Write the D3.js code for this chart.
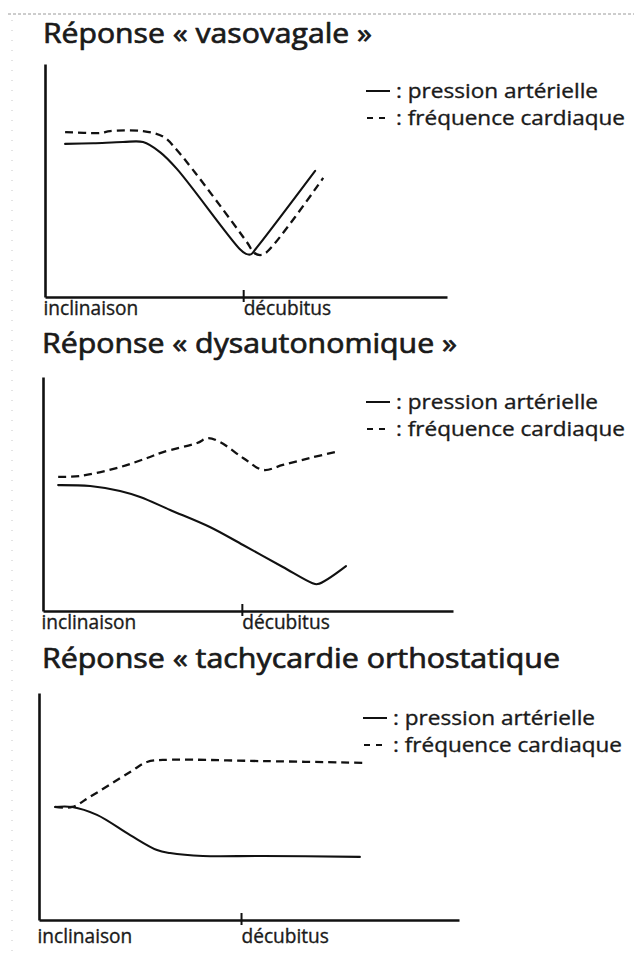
<!DOCTYPE html>
<html lang="fr">
<head>
<meta charset="utf-8">
<script src="https://cdn.jsdelivr.net/npm/d3@7"></script>
<style>
  html, body { margin: 0; padding: 0; background: #ffffff; }
  svg { display: block; }
  text { font-family: "Open Sans", "Noto Sans", sans-serif; fill: #1a1a1a; }
</style>
</head>
<body>
<svg id="fig" width="634" height="964"></svg>
<script>
// Schematic responses to the tilt test: blood pressure (solid) and heart rate (dashed).
// Time runs along x (0 = inclinaison, 100 = end of recording), level along y (0–100, arbitrary units).

const titles = [
  "Réponse « vasovagale »",
  "Réponse « dysautonomique »",
  "Réponse « tachycardie orthostatique"
];
const legendLabels = [": pression artérielle", ": fréquence cardiaque"];
const tickLabels = ["inclinaison", "décubitus"];
const decubitusAt = [49.3, 48.5, 48.1];

// vasovagal response
const vasoPressureX = [5, 12, 19.4, 24.4, 28.6, 32.8, 48.5, 50.0, 51.2, 52.4, 67.2];
const vasoPressureY = [65.7, 66.0, 66.5, 66.5, 62.2, 55.0, 20.5, 18.5, 18.3, 20.6, 54.1];
const vasoHeartX = [5, 13.7, 16.2, 24.4, 29.4, 32.8, 50.2, 52.0, 53.5, 55.0, 69.2];
const vasoHeartY = [70.8, 70.4, 71.2, 71.2, 68.8, 63.1, 23.6, 19.0, 18.0, 19.0, 51.1];

// dysautonomic response
const dysPressureX = [3.7, 11.5, 18.8, 23.7, 31.0, 40.7, 48.8, 58.5, 65.6, 67.0, 73.9];
const dysPressureY = [53.8, 53.4, 51.3, 48.7, 43.2, 35.9, 28.2, 18.8, 12.0, 11.5, 19.2];
const dysHeartX = [3.7, 9.0, 18.8, 25.4, 29.3, 37.6, 40.2, 43.2, 48.8, 53.7, 58.5, 65.1, 71.2];
const dysHeartY = [57.3, 57.7, 61.5, 65.4, 67.9, 71.8, 73.9, 72.2, 65.4, 60.3, 62.4, 65.4, 67.9];

// postural orthostatic tachycardia
const potsPressureX = [3.8, 7.9, 13.8, 21.7, 28.1, 31.2, 39.0, 53.3, 76.4];
const potsPressureY = [49.8, 49.8, 46.3, 37.4, 30.8, 29.5, 28.2, 28.2, 27.8];
const potsHeartX = [3.8, 7.9, 12.1, 21.7, 25.7, 29.5, 53.3, 77.9];
const potsHeartY = [49.8, 49.8, 54.2, 65.2, 69.6, 70.5, 70.0, 69.2];

const zip = (xs, ys) => xs.map((x, i) => ({ x, y: ys[i] }));

const panels = [
  { pressure: zip(vasoPressureX, vasoPressureY), heart: zip(vasoHeartX, vasoHeartY) },
  { pressure: zip(dysPressureX, dysPressureY), heart: zip(dysHeartX, dysHeartY) },
  { pressure: zip(potsPressureX, potsPressureY), heart: zip(potsHeartX, potsHeartY) }
];

// page geometry of each panel
const frames = [
  { x0: 45, x1: 447, top: 64,  bottom: 297, titleY: 43,  titleX: 43, titleW: 329, legendX: 366, legendY: 98,  labelY: 315 },
  { x0: 43, x1: 453, top: 377, bottom: 611, titleY: 353, titleX: 42, titleW: 415, legendX: 366, legendY: 409, labelY: 629 },
  { x0: 39, x1: 459, top: 693, bottom: 920, titleY: 668, titleX: 42, titleW: 518, legendX: 363, legendY: 725, labelY: 943 }
];
const legendW = [202, 229];
const titleSize = 27;
const legendSize = 19.5;
const ink = "#1a1a1a";

const svg = d3.select("#fig");

// faint dotted page edges of the printed sheet
svg.append("line").attr("x1", 8).attr("x2", 634).attr("y1", 14).attr("y2", 14)
  .attr("stroke", "#9a9a9a").attr("stroke-width", 1).attr("stroke-dasharray", "3,2");
svg.append("line").attr("x1", 12).attr("x2", 12).attr("y1", 20).attr("y2", 960)
  .attr("stroke", "#c8c8c8").attr("stroke-width", 1).attr("stroke-dasharray", "1,9");

// font size for the axis labels, chosen so their widths fit the layout
function fitSize(strings, targets) {
  const probe = svg.append("text").attr("font-size", 100);
  let acc = 0;
  strings.forEach((s, i) => {
    probe.text(s);
    acc += 100 * targets[i] / probe.node().getComputedTextLength();
  });
  probe.remove();
  return acc / strings.length;
}
const labelSize = fitSize(tickLabels, [92, 90]);

panels.forEach((p, i) => {
  const f = frames[i];
  const x = d3.scaleLinear().domain([0, 100]).range([f.x0, f.x1]);
  const y = d3.scaleLinear().domain([0, 100]).range([f.bottom, f.top]);
  const g = svg.append("g");

  g.append("text")
    .attr("x", f.titleX).attr("y", f.titleY)
    .attr("font-size", titleSize)
    .attr("stroke", ink).attr("stroke-width", 0.7).attr("stroke-linejoin", "round")
    .attr("textLength", f.titleW).attr("lengthAdjust", "spacingAndGlyphs")
    .text(titles[i]);

  // axes
  const yAxis = d3.axisLeft(y).tickValues([]).tickSizeOuter(0);
  g.append("g").attr("transform", `translate(${f.x0},0)`).call(yAxis)
    .select(".domain").attr("stroke", "#111").attr("stroke-width", 2.6);

  const xAxis = d3.axisBottom(x)
    .tickValues([0, decubitusAt[i]])
    .tickFormat((d, k) => tickLabels[k])
    .tickSizeInner(5).tickSizeOuter(0).tickPadding(0);
  const xg = g.append("g").attr("transform", `translate(0,${f.bottom})`).call(xAxis);
  xg.attr("font-family", null).attr("font-size", null);
  xg.select(".domain").attr("stroke", "#111").attr("stroke-width", 2.6);
  xg.selectAll(".tick line")
    .attr("y1", -7).attr("y2", 5)
    .attr("stroke", "#111").attr("stroke-width", 2)
    .attr("opacity", (d, k) => k === 0 ? 0 : 1);
  xg.selectAll(".tick text")
    .attr("text-anchor", "start")
    .attr("dy", null)
    .attr("y", f.labelY - f.bottom)
    .attr("x", (d, k) => k === 0 ? -2 : 0)
    .attr("font-size", labelSize)
    .attr("stroke", ink).attr("stroke-width", 0.35)
    .style("fill", ink);

  const line = d3.line().x(d => x(d.x)).y(d => y(d.y)).curve(d3.curveCatmullRom.alpha(0.5));

  g.append("path").datum(p.pressure)
    .attr("d", line).attr("fill", "none")
    .attr("stroke", "#111").attr("stroke-width", 2.1)
    .attr("stroke-linejoin", "round").attr("stroke-linecap", "round");

  g.append("path").datum(p.heart)
    .attr("d", line).attr("fill", "none")
    .attr("stroke", "#111").attr("stroke-width", 2.3)
    .attr("stroke-dasharray", "8,5");

  // legend
  const lg = g.append("g").attr("transform", `translate(${f.legendX},${f.legendY})`);
  lg.append("line").attr("x1", 0).attr("x2", 24).attr("y1", -7).attr("y2", -7)
    .attr("stroke", "#111").attr("stroke-width", 2);
  lg.append("line").attr("x1", 1).attr("x2", 22).attr("y1", 20).attr("y2", 20)
    .attr("stroke", "#111").attr("stroke-width", 2).attr("stroke-dasharray", "6,6");
  legendLabels.forEach((t, k) => {
    lg.append("text").attr("x", 30).attr("y", k * 27)
      .attr("font-size", legendSize)
      .attr("stroke", ink).attr("stroke-width", 0.35)
      .attr("textLength", legendW[k]).attr("lengthAdjust", "spacingAndGlyphs")
      .text(t);
  });
});
</script>
</body>
</html>
